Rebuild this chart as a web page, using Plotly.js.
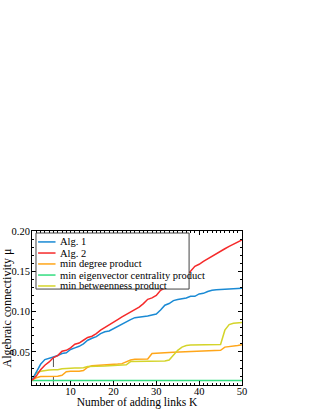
<!DOCTYPE html>
<html>
<head>
<meta charset="utf-8">
<script src="https://cdn.plot.ly/plotly-3.0.1.min.js"></script>
<style>html,body{margin:0;padding:0;background:#fff;}#chart{width:316px;height:409px;}</style>
</head>
<body>
<div id="chart"></div>
<script>
var K = [];
for (var i = 1; i <= 50; i++) K.push(i);

var seriesNames = ["Alg. 1", "Alg. 2", "min degree product", "min eigenvector centrality product", "min betweenness product"];
var seriesColors = ["#1a8ad4", "#f52a2a", "#ffa61a", "#33dd80", "#d4d42a"];

var alg1 = [0.015,0.025,0.0347,0.0405,0.0426,0.0438,0.0455,0.048,0.049,0.053,
            0.055,0.057,0.060,0.0645,0.067,0.069,0.0727,0.075,0.076,0.079,
            0.082,0.085,0.088,0.090,0.0925,0.093,0.0934,0.0946,0.0959,0.097,
            0.102,0.108,0.110,0.1137,0.115,0.116,0.117,0.119,0.119,0.122,
            0.1227,0.125,0.1265,0.127,0.1273,0.128,0.128,0.1285,0.129,0.129];

var alg2 = [0.015,0.020,0.028,0.0335,0.0376,0.043,0.0455,0.051,0.052,0.055,
            0.0595,0.061,0.0645,0.068,0.0695,0.0727,0.077,0.080,0.083,0.087,
            0.090,0.0934,0.0967,0.099,0.1025,0.1056,0.110,0.1153,0.117,0.120,
            0.1265,0.1293,0.132,0.1347,0.1376,0.142,0.146,0.150,0.1562,0.1587,
            0.1624,0.1657,0.169,0.172,0.175,0.178,0.181,0.184,0.187,0.189];

var minDegree = [0.015,0.018,0.0195,0.0195,0.0196,0.0197,0.020,0.021,0.0255,0.026,
                 0.026,0.0262,0.027,0.031,0.033,0.0332,0.0335,0.034,0.0342,0.0345,
                 0.035,0.0355,0.038,0.040,0.041,0.041,0.041,0.0412,0.048,0.0485,
                 0.0487,0.049,0.0492,0.0495,0.0498,0.050,0.0503,0.0505,0.0508,0.051,
                 0.0512,0.0514,0.0516,0.0518,0.052,0.056,0.0565,0.057,0.058,0.059];

var minEigen = [0.0145,0.0145,0.0145,0.0145,0.0145,0.0145,0.0145,0.0145,0.0145,0.0145,
                0.0145,0.0145,0.0145,0.0145,0.0145,0.0145,0.0145,0.0145,0.0145,0.0145,
                0.0145,0.0145,0.0145,0.0145,0.0145,0.0145,0.0145,0.0145,0.0145,0.0145,
                0.0145,0.0145,0.0145,0.0145,0.0145,0.0145,0.0145,0.0145,0.0145,0.0145,
                0.0145,0.0145,0.0145,0.0145,0.0145,0.0145,0.0145,0.0145,0.0145,0.0145];

var minBetween = [0.015,0.024,0.026,0.027,0.0275,0.028,0.028,0.029,0.0295,0.030,
                  0.030,0.030,0.0305,0.032,0.032,0.0322,0.0325,0.0327,0.033,0.0332,
                  0.0335,0.0337,0.034,0.038,0.038,0.038,0.0382,0.0382,0.0384,0.0385,
                  0.0386,0.0388,0.040,0.046,0.052,0.056,0.058,0.0585,0.0587,0.0588,
                  0.059,0.059,0.059,0.059,0.0592,0.077,0.084,0.0855,0.086,0.0865];

var crossK = 6;
var yRange = [0.009, 0.2];
var xRange = [1, 50];

var allSeries = [alg1, alg2, minDegree, minEigen, minBetween];
var drawOrder = [3, 2, 4, 0, 1];

var traces = [];
traces.push({
  x: [crossK, crossK], y: [yRange[0], alg1[crossK - 1]],
  mode: 'lines', line: {color: '#555555', width: 1, dash: 'dash'},
  showlegend: false, hoverinfo: 'skip'
});
drawOrder.forEach(function (idx) {
  traces.push({
    x: K, y: allSeries[idx], name: seriesNames[idx],
    mode: 'lines', line: {color: seriesColors[idx], width: 1.5},
    showlegend: false
  });
});

var font = 'Liberation Serif, Times New Roman, serif';

// manual legend (box, line samples, labels)
var shapes = [{
  type: 'rect', xref: 'paper', yref: 'paper', x0: 0.019, x1: 0.748, y0: 0.623, y1: 0.987,
  line: {color: '#444444', width: 1}, fillcolor: '#ffffff', layer: 'above'
}];
var annotations = [];
var rowY = [0.929, 0.857, 0.786, 0.714, 0.643];
seriesNames.forEach(function (nm, i) {
  shapes.push({
    type: 'line', xref: 'paper', yref: 'paper', x0: 0.029, x1: 0.112, y0: rowY[i], y1: rowY[i],
    line: {color: seriesColors[i], width: 1.5}, layer: 'above'
  });
  annotations.push({
    xref: 'paper', yref: 'paper', x: 0.125, y: rowY[i], xanchor: 'left', yanchor: 'middle',
    text: nm, showarrow: false, font: {family: font, size: 10.5, color: '#000'}
  });
});

var axisCommon = {
  showline: true, linecolor: '#000', linewidth: 1, mirror: 'allticks',
  ticks: 'inside', ticklen: 4, tickcolor: '#000', tickwidth: 1,
  showgrid: false, zeroline: false,
  tickfont: {family: font, size: 10.5, color: '#000'}
};

var layout = {
  width: 316, height: 409,
  margin: {l: 32, r: 74, t: 231, b: 24},
  paper_bgcolor: '#fff', plot_bgcolor: '#fff',
  font: {family: font, color: '#000'},
  showlegend: false,
  xaxis: Object.assign({}, axisCommon, {
    range: xRange, tick0: 0, dtick: 10, ticklabelstandoff: -4,
    minor: {dtick: 1, ticks: 'inside', ticklen: 2, tickcolor: '#000'},
    title: {text: 'Number of adding links K', font: {family: font, size: 11.5, color: '#000'}, standoff: 7}
  }),
  yaxis: Object.assign({}, axisCommon, {
    range: yRange, tick0: 0, dtick: 0.05, tickformat: '.2f', ticklabelstandoff: -1,
    minor: {dtick: 0.01, ticks: 'inside', ticklen: 2, tickcolor: '#000'},
    title: {text: 'Algebraic connectivity μ', font: {family: font, size: 12, color: '#000'}, standoff: 0}
  }),
  shapes: shapes,
  annotations: annotations
};

Plotly.newPlot('chart', traces, layout, {displayModeBar: false, staticPlot: true});
</script>
</body>
</html>
